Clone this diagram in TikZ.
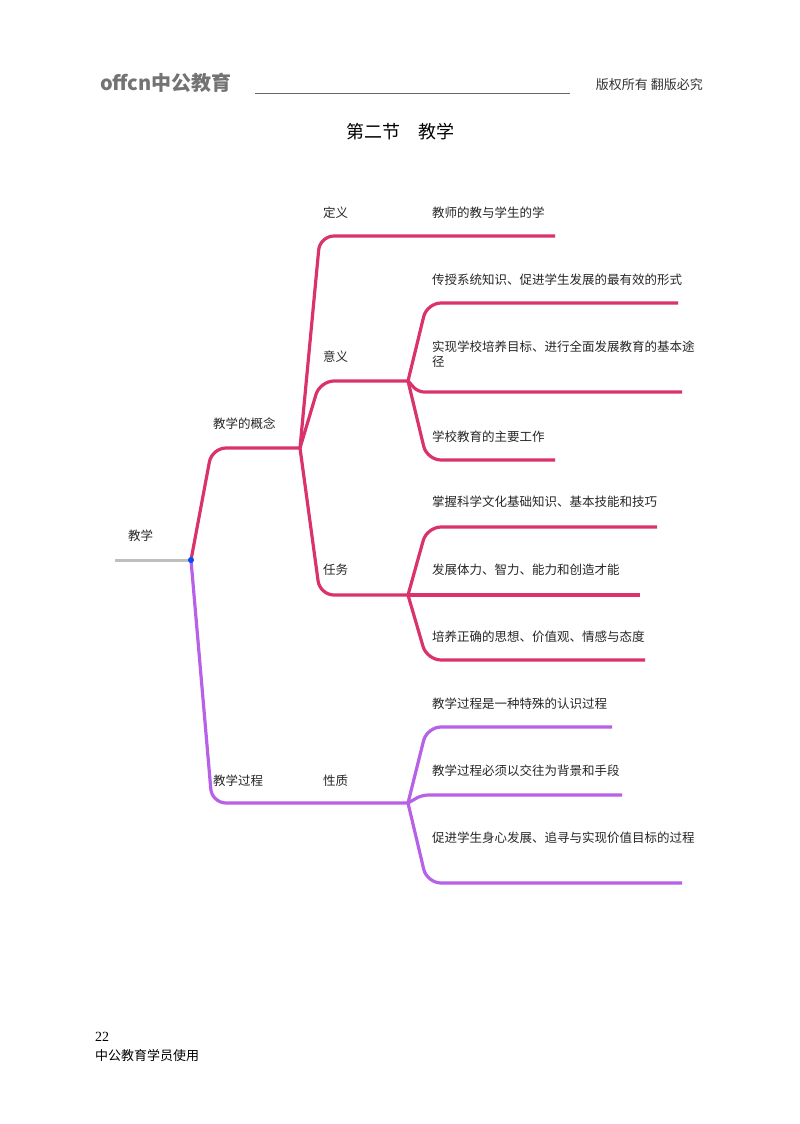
\documentclass[tikz,border=0pt]{standalone}
\usepackage{fontspec}
\setmainfont{Liberation Serif}
\newfontfamily\cjk{Noto Sans CJK SC}
\begin{document}
\begin{tikzpicture}[x=1pt,y=-1pt,
  lbl/.style={font=\cjk\fontsize{12.5}{15}\selectfont,anchor=west,inner sep=0pt,text=black!85},
  pk/.style={draw={rgb,255:red,217;green,51;blue,106},line width=3.2pt,rounded corners=14pt},
  pu/.style={draw={rgb,255:red,183;green,96;blue,232},line width=3.2pt,rounded corners=14pt}]
\useasboundingbox (0,0) rectangle (800,1124);
% header
\node[anchor=west,inner sep=0pt,text=gray!90!black,font=\cjk\bfseries\fontsize{20}{22}\selectfont] (logo) at (100,83) {offcn中公教育};
\draw[gray!80!black,line width=1pt] (255,93) -- (570,93);
\node[anchor=east,inner sep=0pt,font=\cjk\fontsize{13}{15}\selectfont,text=black!80] (rights) at (703,85) {版权所有\ 翻版必究};
\node[inner sep=0pt,font=\cjk\fontsize{18}{20}\selectfont] (title) at (400,132) {第二节\quad 教学};
% root
\coordinate (r0) at (115,560);
\coordinate (j0) at (191,560);
\draw[gray!50,line width=3pt] (r0) -- (j0);
\node[lbl] (root) at (128,536) {教学};
% level 1
\coordinate (j1) at (300,448);
\coordinate (j2) at (408,803);
\path[pk] (j0) -- (212,448) -- (j1);
\path[pu] (j0) -- (212,803) -- (j2);
\fill[blue!70!cyan] (j0) circle (3pt);
\node[lbl] (gn) at (213,424) {教学的概念};
\node[lbl] (gc) at (213,781) {教学过程};
\node[lbl] (xz) at (323,781) {性质};
% level 2
\coordinate (d1) at (555,236);
\coordinate (j3) at (408,381);
\coordinate (j4) at (408,595);
\path[pk] (j1) -- (320,236) -- (d1);
\path[pk] (j1) -- (320,381) -- (j3);
\path[pk] (j1) -- (320,595) -- (j4);
\node[lbl] (dy) at (323,213) {定义};
\node[lbl] (yy) at (323,357) {意义};
\node[lbl] (rw) at (323,570) {任务};
\node[lbl] (t0) at (432,213) {教师的教与学生的学};
% 意义 children
\coordinate (e1) at (678,303);
\coordinate (e2) at (682,392);
\coordinate (e3) at (555,460);
\path[pk] (j3) -- (427,303) -- (e1);
\path[pk,rounded corners=6pt] (j3) -- (418,392) -- (e2);
\path[pk] (j3) -- (427,460) -- (e3);
\node[lbl] (t1) at (432,280) {传授系统知识、促进学生发展的最有效的形式};
\node[lbl,align=left,anchor=north west] (t2) at (432,341) {实现学校培养目标、进行全面发展教育的基本途\\径};
\node[lbl] (t3) at (432,437) {学校教育的主要工作};
% 任务 children
\coordinate (f1) at (657,527);
\coordinate (f2) at (640,595);
\coordinate (f3) at (645,660);
\path[pk] (j4) -- (427,527) -- (f1);
\path[pk] (j4) -- (f2);
\path[pk] (j4) -- (427,660) -- (f3);
\node[lbl] (t4) at (432,502) {掌握科学文化基础知识、基本技能和技巧};
\node[lbl] (t5) at (432,570) {发展体力、智力、能力和创造才能};
\node[lbl] (t6) at (432,637) {培养正确的思想、价值观、情感与态度};
% 性质 children
\coordinate (g1) at (612,727);
\coordinate (g2) at (622,795);
\coordinate (g3) at (682,883);
\path[pu] (j2) -- (427,727) -- (g1);
\path[pu,rounded corners=6pt] (j2) -- (422,795) -- (g2);
\path[pu] (j2) -- (427,883) -- (g3);
\node[lbl] (t7) at (432,704) {教学过程是一种特殊的认识过程};
\node[lbl] (t8) at (432,771) {教学过程必须以交往为背景和手段};
\node[lbl] (t9) at (432,838) {促进学生身心发展、追寻与实现价值目标的过程};
% footer
\node[anchor=west,inner sep=0pt,font=\fontsize{14}{16}\selectfont] (pg) at (95,1037) {22};
\node[anchor=west,inner sep=0pt,font=\cjk\fontsize{13}{15}\selectfont] (ft) at (95,1056) {中公教育学员使用};
\end{tikzpicture}
\end{document}
